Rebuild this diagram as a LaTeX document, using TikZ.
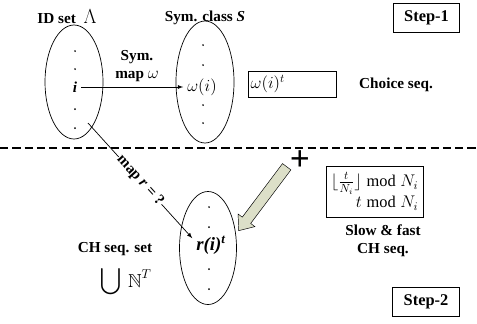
\documentclass[tikz,border=0pt]{standalone}
\usepackage{amsmath,amssymb}
\usepackage{fontspec}
\setmainfont{Liberation Serif}
\usetikzlibrary{shapes.geometric}
\definecolor{arrowfill}{RGB}{220,223,200}

\begin{document}
\begin{tikzpicture}[x=0.03cm, y=-0.03cm,
	every node/.style = {font=\fontsize{13}{15}\selectfont\bfseries},
	set/.style = {draw, ellipse, semithick, minimum width=1.74cm},
	dot/.style = {circle, fill, inner sep=0.6pt},
	stepbox/.style = {draw, semithick, minimum width=2cm, minimum height=0.87cm, font=\fontsize{14}{16}\selectfont\bfseries},
	seqbox/.style = {draw, semithick, inner sep=2pt, font=\fontsize{14}{18}\selectfont}]
	\useasboundingbox (0,0) rectangle (477,323);
	% step 1
	\node[set, minimum height=3.42cm] (idset) at (74,82) {};
	\node[set, minimum height=3.66cm] (symclass) at (205,82) {};
	\node (idlabel) at (67,17) {ID set~~{\fontsize{16}{16}\selectfont$\Lambda$}};
	\node (symlabel) at (205,18) {Sym. class \textit{S}};
	\node[dot] (a1) at (75,51) {};
	\node[dot] (a2) at (75,69) {};
	\node (i) at (75,87) {\textit{i}};
	\node[dot] (a3) at (75,109) {};
	\node[dot] (a4) at (75,128) {};
	\node[dot] (b1) at (203,45) {};
	\node[dot] (b2) at (203,65) {};
	\node (wi) at (202,87) {\fontsize{14}{16}\selectfont$\omega(i)$};
	\node[dot] (b3) at (203,105) {};
	\node[dot] (b4) at (203,123) {};
	\draw[semithick, -latex] (i) -- (wi);
	\node[align=center] (symmap) at (137,66) {Sym.\\map {\fontsize{15}{15}\selectfont$\omega$}};
	\node[seqbox, anchor=west, minimum height=0.78cm, text width=2.5cm, align=left] (wit) at (248,84) {$\omega(i)^t$};
	\node (choice) at (396,85) {Choice seq.};
	\node[stepbox] (step1) at (426.5,18) {Step-1};
	% split
	\coordinate (cutl) at (0,148);
	\coordinate (cutr) at (477,148);
	\draw[line width=1.1pt, dash pattern=on 7pt off 3.5pt] (cutl) -- (cutr);
	% step 2
	\node[set, minimum width=1.71cm, minimum height=3.39cm] (chset) at (208,248) {};
	\node[dot] (c1) at (209,207) {};
	\node[dot] (c2) at (209,227) {};
	\node (ri) at (211,245) {\fontsize{16}{18}\selectfont\itshape r(i)\textsuperscript{t}};
	\node[dot] (c3) at (209,269) {};
	\node[dot] (c4) at (209,289) {};
	\coordinate (mapfrom) at (88,123);
	\draw[semithick, -latex] (mapfrom) -- (ri.160)
		node[pos=0.5, sloped, fill=white, inner sep=0.5pt] (maplabel) {map \textit{r} = ?};
	\node (chlabel) at (115,249) {CH seq. set};
	\node[inner sep=0pt] (union) at (126,282) {\fontsize{16}{18}\selectfont$\displaystyle\bigcup\,\mathbb{N}^T$};
	% hint arrow
	\begin{scope}[shift={(262.7,198.7)}, rotate=233.1]
		\draw[fill=arrowfill] (-40,-5.25) -- (27,-5.25) -- (27,-10.5) -- (40,0)
			-- (27,10.5) -- (27,5.25) -- (-40,5.25) -- cycle;
	\end{scope}
	\node (plus) at (300,161) {\fontsize{30}{30}\selectfont +};
	\node[seqbox, align=right, minimum width=2.91cm, minimum height=1.53cm] (modbox) at (374.5,191.5)
		{$\lfloor\frac{t}{N_i}\rfloor \bmod N_i$\\$t \bmod N_i$};
	\node[align=center] (slowfast) at (383,241) {Slow \& fast\\CH seq.};
	\node[stepbox] (step2) at (426,302) {Step-2};
\end{tikzpicture}
\end{document}
